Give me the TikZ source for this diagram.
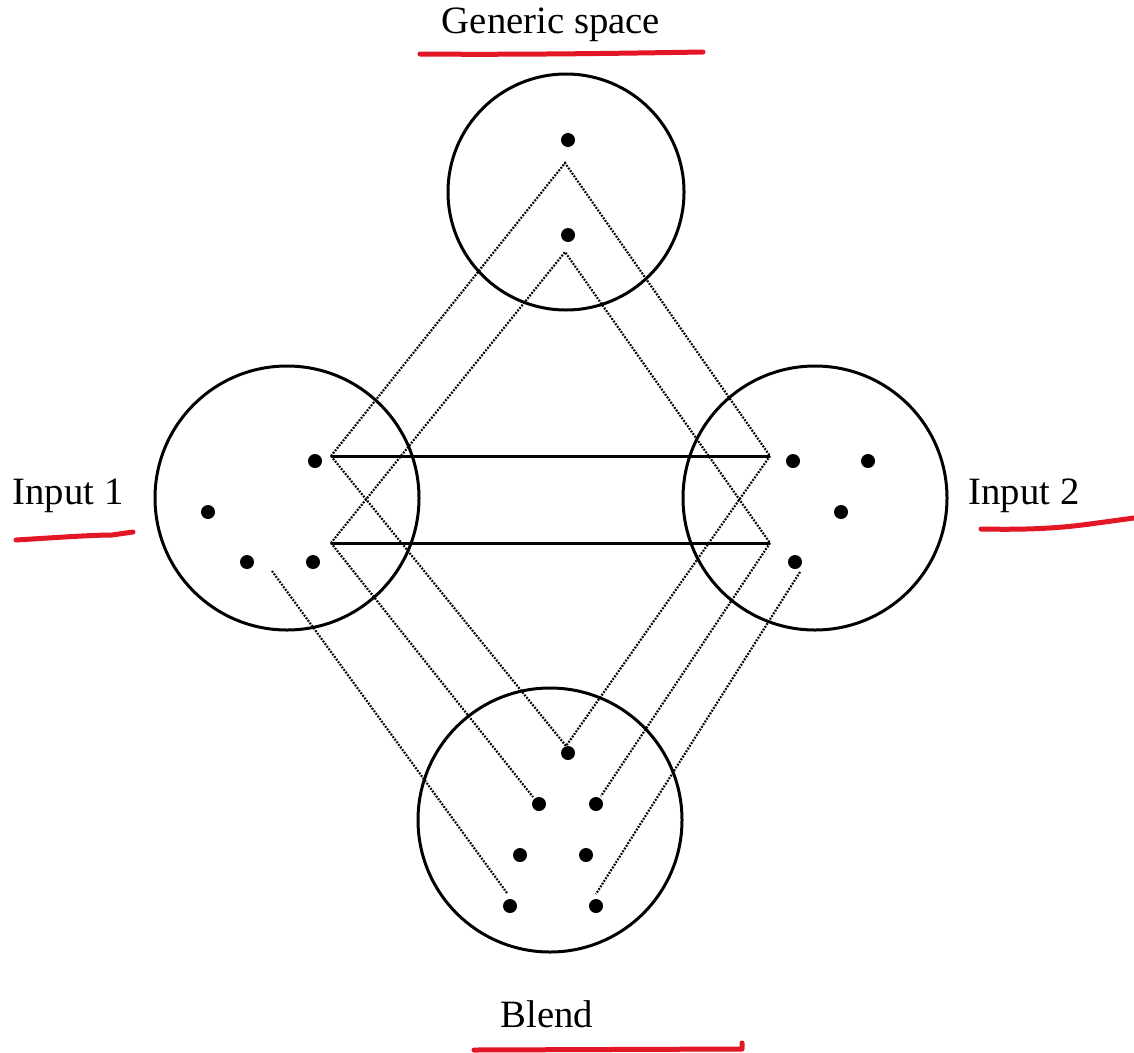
\documentclass[tikz,border=0pt]{standalone}
\usepackage{fontspec}
\setmainfont{Liberation Serif}
\definecolor{pen}{RGB}{226,22,36}
\begin{document}
\begin{tikzpicture}[x=1pt,y=-1pt,
  space/.style={draw,circle,line width=3pt,inner sep=0pt,minimum size=#1},
  pt/.style={circle,fill=black,inner sep=0pt,minimum size=14pt},
  link/.style={line width=2.2pt,dash pattern=on 1.8pt off 1.4pt},
  bar/.style={line width=3pt},
  note/.style={pen,line width=5pt,line cap=round,line join=round},
  lbl/.style={anchor=base,font=\fontsize{38.7}{46}\selectfont}]
\useasboundingbox (0,0) rectangle (1134,1052);

% the four spaces
\node[space=236pt] (generic) at (566,192) {};
\node[space=264pt] (in1) at (287,498) {};
\node[space=264pt] (in2) at (815,498) {};
\node[space=264pt] (blend) at (550,820) {};

% elements of the generic space
\node[pt] (g1) at (568,140) {};
\node[pt] (g2) at (568,235) {};
% elements of input 1
\node[pt] (a1) at (315,461) {};
\node[pt] (a2) at (208,512) {};
\node[pt] (a3) at (247,562) {};
\node[pt] (a4) at (313,562) {};
% elements of input 2
\node[pt] (b1) at (793,461) {};
\node[pt] (b2) at (868,461) {};
\node[pt] (b3) at (841,512) {};
\node[pt] (b4) at (795,562) {};
% elements of the blend
\node[pt] (c1) at (568,753) {};
\node[pt] (c2) at (539,804) {};
\node[pt] (c3) at (596,804) {};
\node[pt] (c4) at (520,855) {};
\node[pt] (c5) at (586,855) {};
\node[pt] (c6) at (510,906) {};
\node[pt] (c7) at (596,906) {};

% joints where the mappings meet
\coordinate (gA) at (565,163);
\coordinate (gB) at (565,252);
\coordinate (lA) at (331,456);
\coordinate (lB) at (331,543);
\coordinate (rA) at (770,456);
\coordinate (rB) at (770,543);
\coordinate (bA) at (566,746);
\coordinate (bB) at (533,797);
\coordinate (bC) at (601,796);
\coordinate (bD) at (507,893);
\coordinate (bE) at (596,894);
\coordinate (sL) at (272,571);
\coordinate (sR) at (800,572);

% cross-space mapping
\draw[bar] (lA) -- (rA);
\draw[bar] (lB) -- (rB);

% generic space to the inputs
\draw[link] (lA) -- (gA) -- (rA);
\draw[link] (lB) -- (gB) -- (rB);

% projections into the blend
\draw[link] (lA) -- (bA) -- (rA);
\draw[link] (lB) -- (bB);
\draw[link] (rB) -- (bC);
\draw[link] (sL) -- (bD);
\draw[link] (sR) -- (bE);

% labels
\node[lbl] (tg) at (551,33) {Generic space};
\node[lbl] (t1) at (68,504) {Input 1};
\node[lbl] (t2) at (1024,504) {Input 2};
\node[lbl] (tb) at (547,1027) {Blend};

% hand-drawn underlines
\draw[note] (420,54) .. controls (520,55) and (640,53) .. (703,52);
\draw[note] (16,540) .. controls (50,538) and (90,535) .. (112,535) -- (133,532);
\draw[note] (981,529) .. controls (1030,530) and (1060,528) .. (1090,524) -- (1134,518);
\draw[note] (474,1050) -- (742,1049) -- (742,1043);
\end{tikzpicture}
\end{document}
